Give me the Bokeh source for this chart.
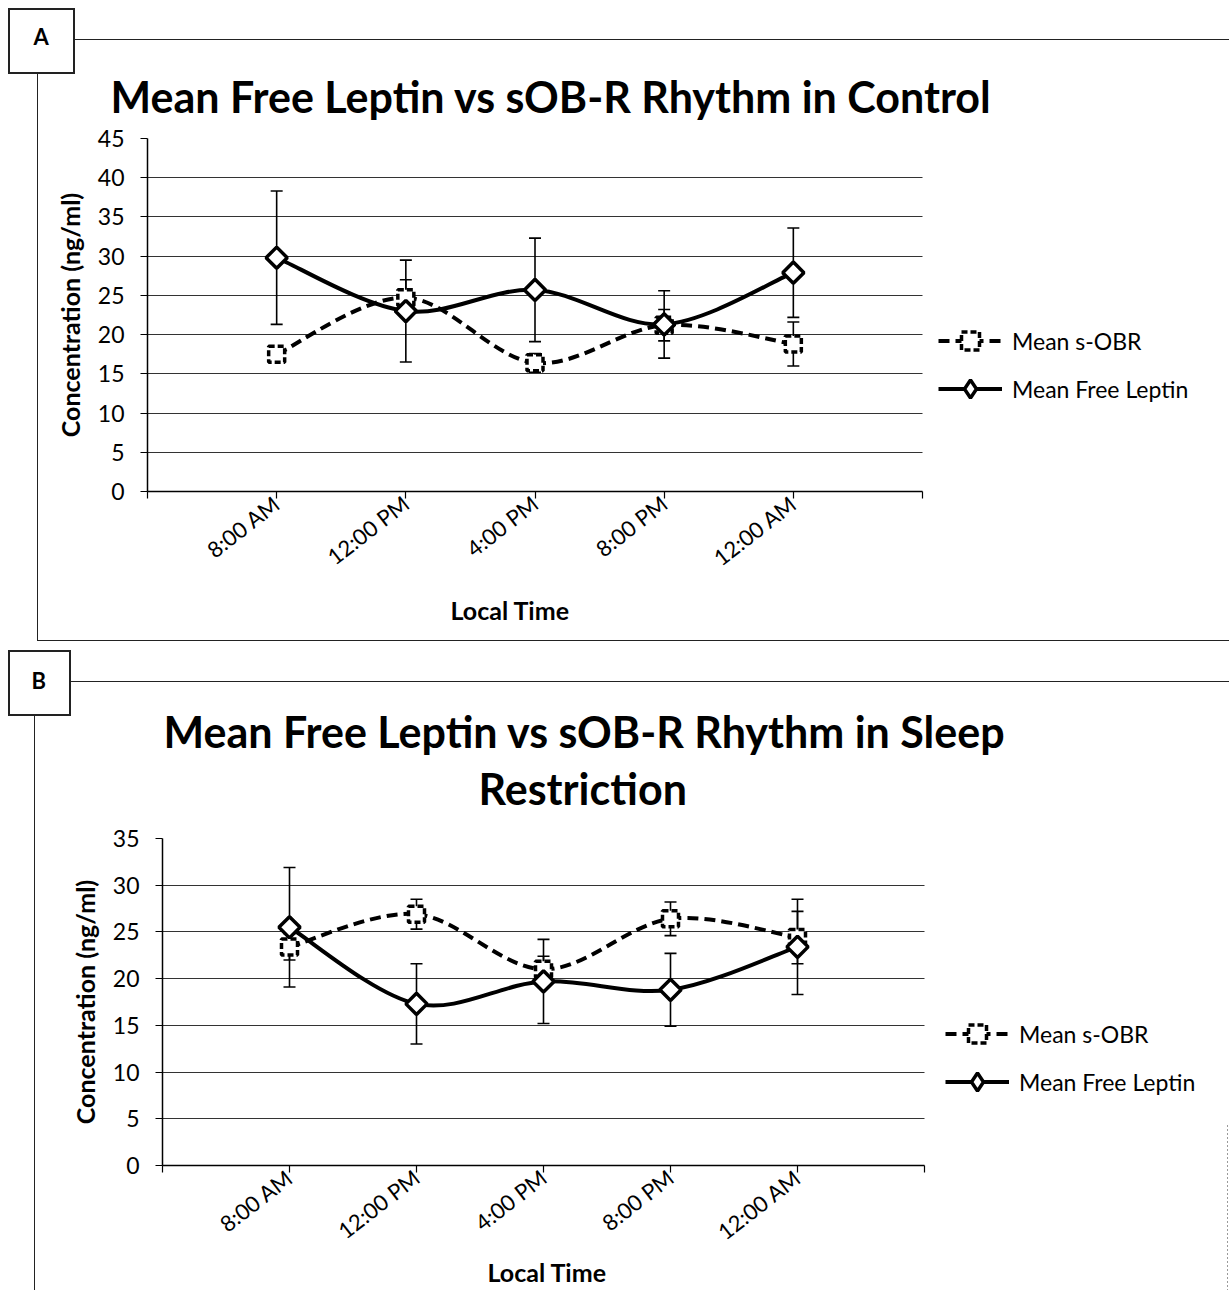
import numpy as np
from bokeh.plotting import figure
from bokeh.models import (ColumnDataSource, Whisker, TeeHead, Legend, LegendItem,
                          FixedTicker, Range1d, Title)
from bokeh.layouts import column
from bokeh.embed import file_html
from bokeh.resources import INLINE

# ---------------- data ----------------
times = ["8:00 AM", "12:00 PM", "4:00 PM", "8:00 PM", "12:00 AM"]

# Panel A: Control
a_sobr = [17.5, 24.7, 16.4, 21.2, 18.8]
a_sobr_err = [0.8, 2.3, 1.2, 2.0, 2.8]
a_leptin = [29.8, 23.0, 25.7, 21.3, 27.9]
a_leptin_err = [8.5, 6.5, 6.6, 4.3, 5.7]

# Panel B: Sleep Restriction
b_sobr = [23.4, 26.9, 21.0, 26.4, 24.4]
b_sobr_err = [1.4, 1.6, 1.4, 1.8, 2.8]
b_leptin = [25.5, 17.3, 19.7, 18.8, 23.4]
b_leptin_err = [6.4, 4.3, 4.5, 3.9, 5.1]

title_lines = [["Mean Free Leptin vs sOB-R Rhythm in Control"],
               ["Mean Free Leptin vs sOB-R Rhythm in Sleep", "Restriction"]]
panel_letters = ["A", "B"]
y_max = [45, 35]
series_names = ["Mean s-OBR", "Mean Free Leptin"]
x_title = "Local Time"
y_title = "Concentration (ng/ml)"

FONT = "Lato"
W = 1229
RIGHT = 5


def smooth_src(xs, ys):
    n = len(xs)
    d = dict(x0=[], y0=[], x1=[], y1=[], cx0=[], cy0=[], cx1=[], cy1=[])
    for i in range(n - 1):
        i0, i3 = max(i - 1, 0), min(i + 2, n - 1)
        d["x0"].append(xs[i]); d["y0"].append(ys[i])
        d["x1"].append(xs[i + 1]); d["y1"].append(ys[i + 1])
        d["cx0"].append(xs[i] + (xs[i + 1] - xs[i0]) / 6)
        d["cy0"].append(ys[i] + (ys[i + 1] - ys[i0]) / 6)
        d["cx1"].append(xs[i + 1] - (xs[i3] - xs[i]) / 6)
        d["cy1"].append(ys[i + 1] - (ys[i3] - ys[i]) / 6)
    return ColumnDataSource(d)


def css_lines(rects, faint=None):
    imgs, sizes, poss = [], [], []
    for (x, y, w, h) in rects:
        imgs.append("linear-gradient(#222222, #222222)")
        sizes.append(f"{w}px {h}px")
        poss.append(f"{x}px {y}px")
    if faint is not None:
        x, y, w, h = faint
        imgs.append("repeating-linear-gradient(to bottom, #9a9a9a 0px, #9a9a9a 2px, "
                    "transparent 2px, transparent 4px)")
        sizes.append(f"{w}px {h}px")
        poss.append(f"{x}px {y}px")
    return {"background-image": ", ".join(imgs),
            "background-size": ", ".join(sizes),
            "background-position": ", ".join(poss),
            "background-repeat": "no-repeat",
            "background-color": "white"}


def make_panel(idx, sobr, sobr_err, lep, lep_err, height, left, axis_right, top, bottom,
               letter_cfg, title_cfg, xlabel_cfg, legend_xy, rects, faint=None):
    n_slots = len(times) + 1
    xs = [i + 1 for i in range(len(times))]
    frame_w = W - left - RIGHT
    x_end = n_slots * frame_w / (axis_right - left)   # axis occupies only part of the frame
    p = figure(width=W, height=height, output_backend="svg", toolbar_location=None,
               x_range=Range1d(0, x_end), y_range=Range1d(0, y_max[idx]),
               min_border_left=left, min_border_right=RIGHT,
               min_border_top=top, min_border_bottom=bottom)
    p.frame_align = False
    p.outline_line_color = None
    p.background_fill_color = "white"
    p.border_fill_color = None
    p.styles = css_lines(rects, faint)

    # panel letter (outermost title); the other titles are listed nearest-first
    p.title.text = panel_letters[idx]
    p.title.text_font = FONT
    p.title.text_font_size = "22px"
    p.title.text_font_style = "bold"
    p.title.align = "left"
    p.title.offset = letter_cfg[0]
    p.title.standoff = letter_cfg[1]
    p.title.text_color = "black"
    for text, (off, stand) in reversed(list(zip(title_lines[idx], title_cfg))):
        t = Title(text=text, text_font=FONT, text_font_size="43px", text_font_style="bold",
                  align="left", offset=off, standoff=stand, text_color="black")
        p.add_layout(t, "above")

    # grid
    p.xgrid.grid_line_color = None
    p.ygrid.grid_line_color = "#333333"
    p.ygrid.grid_line_width = 1.2
    p.ygrid.ticker = FixedTicker(ticks=list(range(0, y_max[idx] + 1, 5)))
    p.ygrid.cross_bounds = (0, n_slots)

    # axes
    p.yaxis.ticker = FixedTicker(ticks=list(range(0, y_max[idx] + 1, 5)))
    p.xaxis.ticker = FixedTicker(ticks=list(range(0, n_slots + 1)))
    p.xaxis.bounds = (0, n_slots)
    overrides = {0: "", n_slots: ""}
    for i, t in enumerate(times):
        overrides[i + 1] = t
    p.xaxis.major_label_overrides = overrides
    p.xaxis.major_label_orientation = 0.66
    for ax in (p.xaxis, p.yaxis):
        ax.axis_line_color = "black"
        ax.axis_line_width = 1.5
        ax.major_tick_line_color = "black"
        ax.major_tick_line_width = 1.2
        ax.major_tick_out = 7
        ax.major_tick_in = 0
        ax.minor_tick_line_color = None
        ax.major_label_text_font = FONT
        ax.major_label_text_color = "black"
        ax.axis_label_text_font = FONT
        ax.axis_label_text_font_size = "25px"
        ax.axis_label_text_font_style = "bold"
        ax.axis_label_text_color = "black"
    p.yaxis.major_label_text_font_size = "23px"
    p.xaxis.major_label_text_font_size = "22px"
    p.yaxis.axis_label = y_title
    p.yaxis.major_label_standoff = 16
    p.yaxis.axis_label_standoff = 10
    p.xaxis.major_label_standoff = 2
    # x-axis title centred under the axis span (not the whole frame)
    p.add_layout(Title(text=x_title, text_font=FONT, text_font_size="25px",
                       text_font_style="bold", align="left", offset=xlabel_cfg[0],
                       standoff=xlabel_cfg[1], text_color="black"), "below")

    # error bars
    src_s = ColumnDataSource(dict(x=xs, y=sobr,
                                  lo=[v - e for v, e in zip(sobr, sobr_err)],
                                  hi=[v + e for v, e in zip(sobr, sobr_err)]))
    src_l = ColumnDataSource(dict(x=xs, y=lep,
                                  lo=[v - e for v, e in zip(lep, lep_err)],
                                  hi=[v + e for v, e in zip(lep, lep_err)]))
    for src in (src_s, src_l):
        w = Whisker(base="x", upper="hi", lower="lo", source=src, dimension="height",
                    line_color="black", line_width=1.6,
                    upper_head=TeeHead(size=12, line_width=1.6, line_color="black"),
                    lower_head=TeeHead(size=12, line_width=1.6, line_color="black"))
        p.add_layout(w)

    # smoothed lines
    bs = p.bezier(x0="x0", y0="y0", x1="x1", y1="y1", cx0="cx0", cy0="cy0", cx1="cx1",
                  cy1="cy1", source=smooth_src(xs, sobr), line_color="black", line_width=4,
                  line_dash="11 6")
    bl = p.bezier(x0="x0", y0="y0", x1="x1", y1="y1", cx0="cx0", cy0="cy0", cx1="cx1",
                  cy1="cy1", source=smooth_src(xs, lep), line_color="black", line_width=4)

    # markers
    ms = p.scatter(x="x", y="y", source=src_s, marker="square", size=16,
                   fill_color="white", line_color="black", line_width=3.5, line_dash="6 3")
    # diamond glyph used for the legend key (sits fully under the rotated squares)
    md = p.scatter(x="x", y="y", source=src_l, marker="diamond", size=20,
                   fill_color="white", line_color="black", line_width=3.5)
    p.scatter(x="x", y="y", source=src_l, marker="square", angle=np.pi / 4, size=15,
              fill_color="white", line_color="black", line_width=3.5)

    legend = Legend(items=[LegendItem(label=series_names[0], renderers=[bs, ms]),
                           LegendItem(label=series_names[1], renderers=[bl, md])],
                    location=legend_xy, orientation="vertical",
                    label_text_font=FONT, label_text_font_size="23px",
                    label_text_color="black",
                    glyph_width=64, glyph_height=45, label_height=45,
                    label_standoff=10, spacing=3, padding=0, margin=0,
                    border_line_color=None, background_fill_alpha=0)
    p.add_layout(legend, "center")
    return p


HA = 633
HB = 1290 - HA
pA = make_panel(0, a_sobr, a_sobr_err, a_leptin, a_leptin_err, HA,
                147, 922, 138, HA - 491,
                (33 - 147, 4), [(-37, 34)], (450 - 147, 16),
                (791, 80),
                [(8, 8, 67, 2), (8, 72, 67, 2), (8, 8, 2, 66), (73, 8, 2, 66),
                 (75, 39, W - 75, 1), (37, 74, 1, HA - 74)])
pB = make_panel(1, b_sobr, b_sobr_err, b_leptin, b_leptin_err, HB,
                162, 924, 836 - HA, HB - (1165 - HA),
                (31 - 162, 62), [(1, -42), (316, 50)], (487 - 162, -7),
                (783, 61),
                [(37, 0, 1, 640 - HA), (37, 640 - HA, W - 37, 1),
                 (8, 650 - HA, 63, 2), (8, 714 - HA, 63, 2),
                 (8, 650 - HA, 2, 66), (69, 650 - HA, 2, 66),
                 (71, 681 - HA, W - 71, 1), (34, 716 - HA, 1, HB - (716 - HA))],
                faint=(W - 2, 1125 - HA, 1, HB - (1125 - HA)))

layout = column(pA, pB, spacing=0)
open("out.html", "w").write(file_html(layout, INLINE))
